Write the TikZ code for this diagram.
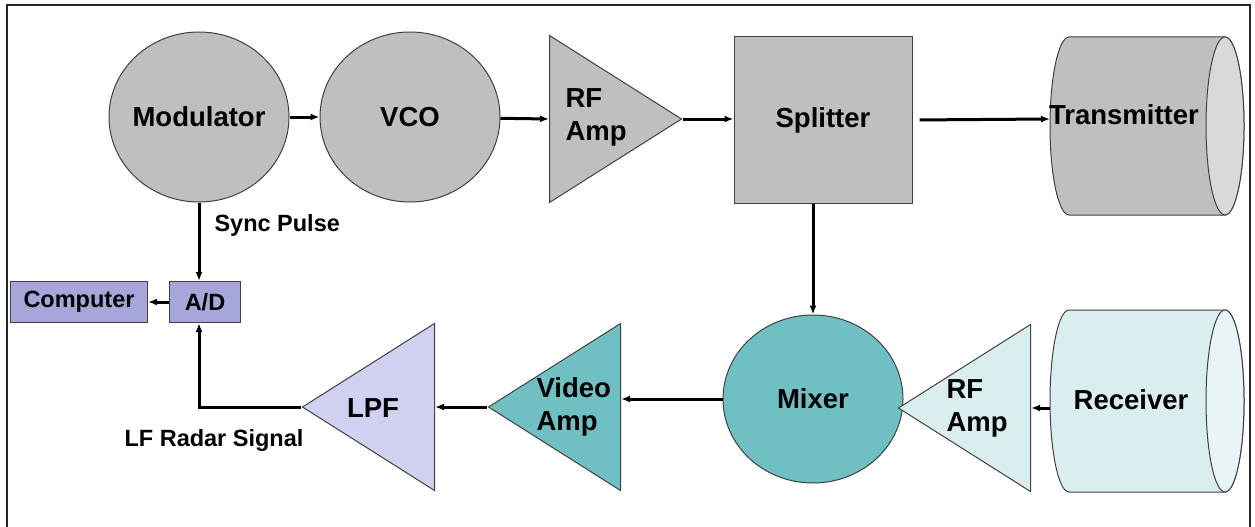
\documentclass[tikz,border=0pt]{standalone}
\usepackage{fontspec}
\setmainfont{Liberation Sans}
\usetikzlibrary{arrows.meta,positioning,shapes.geometric}

\definecolor{blockgray}{RGB}{191,191,191}
\definecolor{capgray}{RGB}{217,217,217}
\definecolor{adpurple}{RGB}{166,166,219}
\definecolor{lpfpurple}{RGB}{208,208,240}
\definecolor{mixteal}{RGB}{112,191,195}
\definecolor{rxcyan}{RGB}{218,238,240}
\definecolor{rxcap}{RGB}{232,244,245}

\begin{document}
\begin{tikzpicture}[x=1pt, y=-1pt, >={Latex[length=9pt,width=7pt]},
    font=\bfseries\fontsize{27.5}{33}\selectfont,
    blk/.style={draw=black!75, line width=1pt},
    flow/.style={->, line width=3pt},
    small/.style={font=\bfseries\fontsize{23.5}{28}\selectfont},
    oval/.style={blk, ellipse, inner ysep=0pt, inner xsep=-4pt, minimum width=180pt},
    amp/.style={blk, isosceles triangle, isosceles triangle stretches, inner sep=0pt,
      minimum width=167pt, minimum height=132pt}]
    \useasboundingbox (0,0) rectangle (1255,527);
    \draw[line width=1.6pt, black!85] (7,527) -- (7,5) -- (1250,5) -- (1250,527);

    % antenna tanks
    \foreach \cy/\ry/\body/\cap in {126/89/blockgray/capgray, 401/91/rxcyan/rxcap} {
      \draw[blk, fill=\body] (1069,\cy-\ry) -- (1225,\cy-\ry)
        arc[start angle=270, end angle=450, x radius=19, y radius=\ry]
        -- (1069,\cy+\ry)
        arc[start angle=90, end angle=270, x radius=19, y radius=\ry] -- cycle;
      \draw[blk, fill=\cap] (1225,\cy) ellipse[x radius=19, y radius=\ry];
    }
    \coordinate (txin) at (1050,119);
    \coordinate (rxout) at (1050,408);

    % top row
    \node[oval, fill=blockgray, minimum height=170pt] (mod) at (199,117) {Modulator};
    \node[oval, fill=blockgray, minimum height=170pt] (vco) at (410,117) {VCO};
    \node[amp, fill=blockgray, anchor=lower side] (rfamp) at (549,119) {};
    \node[align=left, anchor=west] (rftext) at (562,117) {RF\\Amp};
    \node[blk, fill=blockgray, minimum width=178pt, minimum height=167pt] (split) at (823,120) {Splitter};
    \node (txtext) at (1124,115) {Transmitter};

    % bottom row
    \node[oval, fill=mixteal, minimum height=168pt] (mix) at (813,399) {Mixer};
    \node[amp, fill=rxcyan, shape border rotate=180, anchor=lower side] (rfamp2) at (1031,408) {};
    \node[align=left, anchor=west] (rftext2) at (943,408) {RF\\Amp};
    \node (rxtext) at (1131,400) {Receiver};
    \node[amp, fill=mixteal, shape border rotate=180, anchor=lower side] (vamp) at (621,407) {};
    \node[align=left, anchor=west] (vtext) at (533,407) {Video\\Amp};
    \node[amp, fill=lpfpurple, shape border rotate=180, anchor=lower side] (lpf) at (435,407) {};
    \node (lpftext) at (373,408) {LPF};

    % converter and computer
    \node[blk, fill=adpurple, small, minimum width=71pt, minimum height=41pt] (ad) at (205,302) {A/D};
    \node[blk, fill=adpurple, small, minimum width=137pt, minimum height=41pt] (comp) at (79,302) {Computer};
    \node[small, anchor=west] (sync) at (211,225) {Sync Pulse};
    \node[small] (lfsig) at (214,440) {LF Radar Signal};

    % signal flow
    \draw[flow] (mod) -- (vco);
    \draw[flow] (vco) -- (rfamp.lower side);
    \draw[flow] (rfamp.apex) -- (split.west |- rfamp.apex);
    \draw[flow, shorten <=7pt] (split.east) -- (txin);
    \draw[flow] (mix.north |- split.south) -- (mix.north);
    \draw[flow] (rxout) -- (rfamp2.lower side);
    \draw[flow] (mix) -- (vamp.lower side |- mix.west);
    \draw[flow] (vamp.apex) -- (lpf.lower side);
    \draw[flow] (lpf.apex) -| (mod.south |- ad.south);
    \draw[flow] (mod.south) -- (mod.south |- ad.north);
    \draw[flow] (ad) -- (comp);
\end{tikzpicture}
\end{document}
